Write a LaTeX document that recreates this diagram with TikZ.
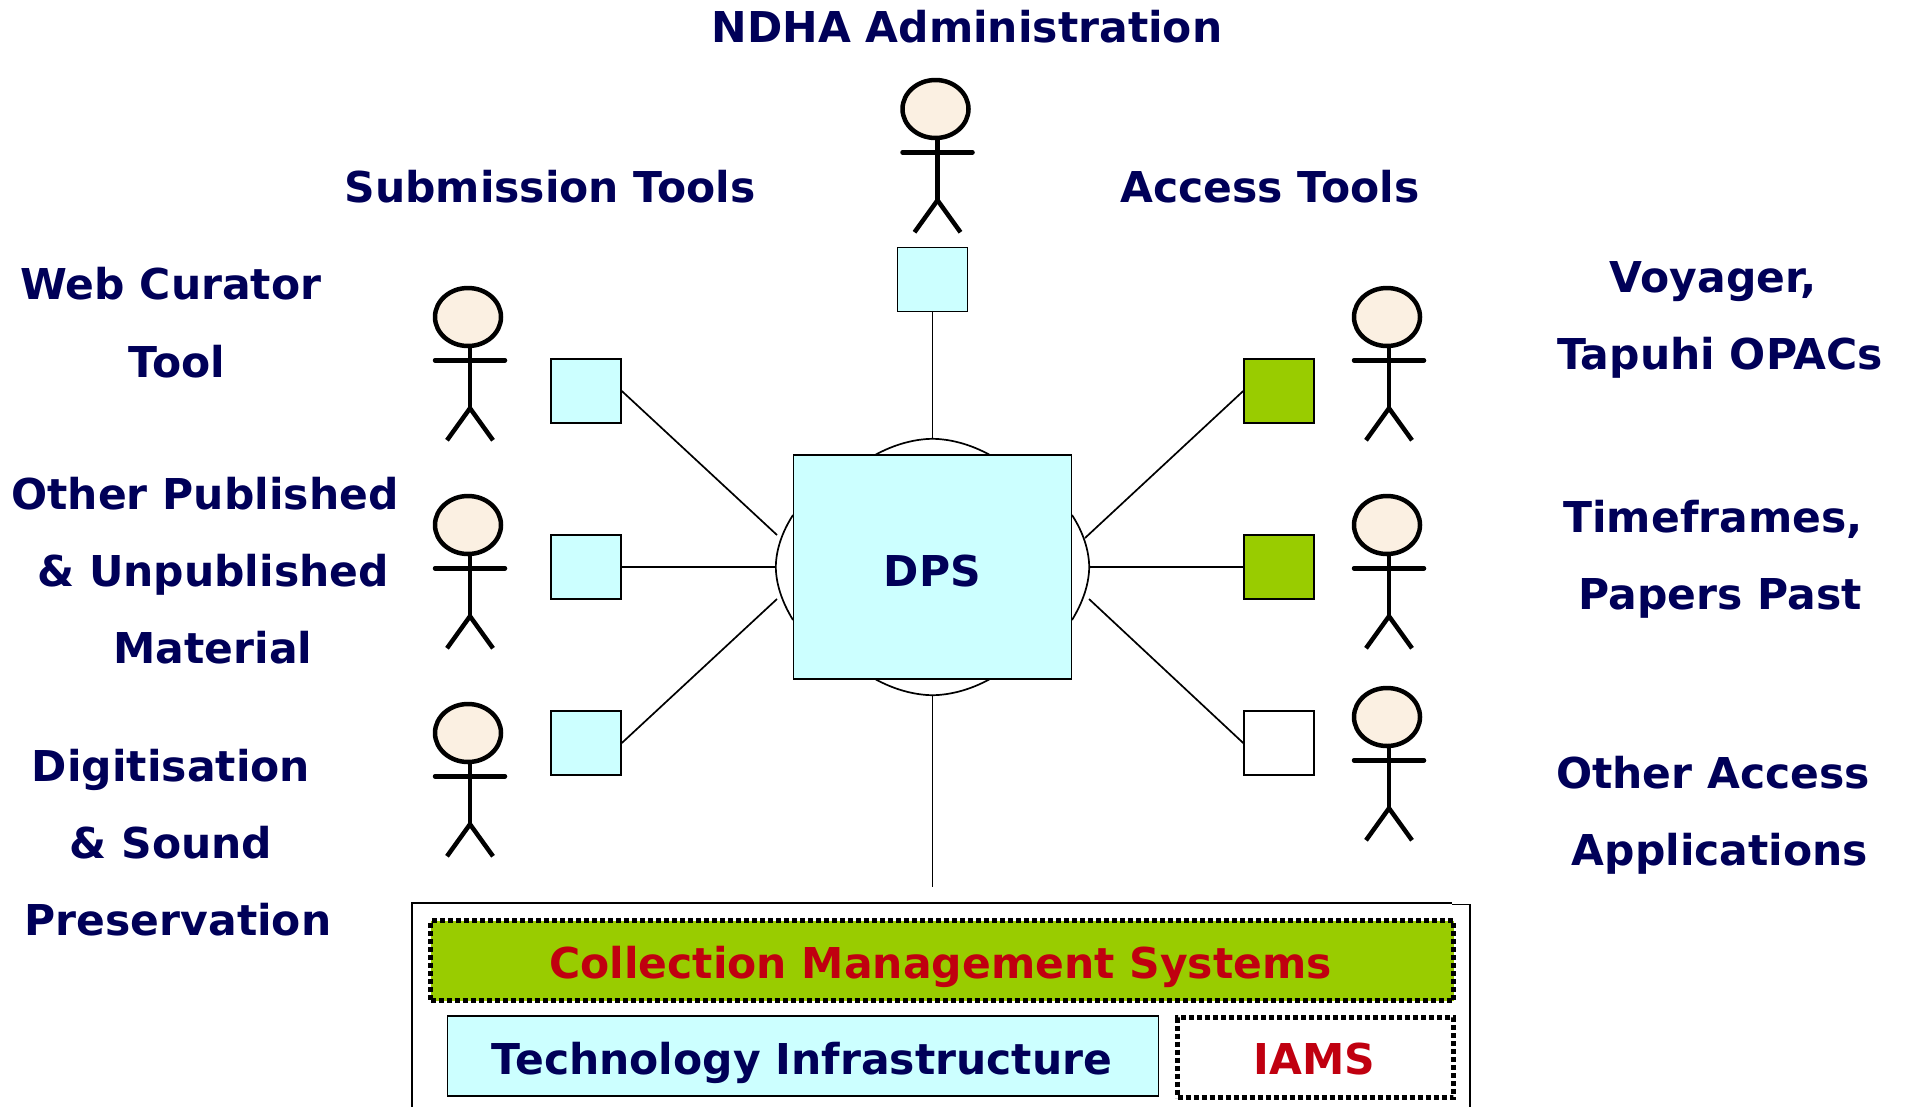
\documentclass[tikz,border=0pt]{standalone}
\usepackage{fontspec}
\setmainfont{DejaVu Sans}
\usetikzlibrary{shapes.geometric,calc}
\definecolor{navy}{HTML}{000058}
\definecolor{redtxt}{HTML}{C00010}
\definecolor{olive}{HTML}{99CC00}
\definecolor{pale}{HTML}{CCFFFF}
\definecolor{skin}{HTML}{FBF0E2}
\tikzset{
  x=1pt,y=-1pt,
  lab/.style={anchor=base,inner sep=0pt,text=navy,font=\fontsize{42.5}{42.5}\selectfont\bfseries},
  redlab/.style={lab,text=redtxt},
  tool/.style={draw=black,line width=1.6pt,minimum width=70pt,minimum height=64pt,inner sep=0pt,anchor=center},
  link/.style={draw=black,line width=1.7pt},
  dotbox/.style={draw=black,line width=5pt,dash pattern=on 5pt off 3pt,inner sep=0pt,anchor=north west},
  head/.style={draw=black,line width=4.5pt,fill=skin,ellipse,inner sep=0pt,minimum width=66pt,minimum height=58pt},
  limb/.style={draw=black,line width=4.5pt},
}
\newcommand{\person}[3]{%
  \node[head] (#1) at (#2,#3) {};
  \draw[limb] (#1.south) ++(2,0) -- ++(0,60) coordinate (#1hip);
  \draw[limb,line cap=round] ($(#1.south)+(-33,12)$) -- ($(#1.south)+(37,12)$);
  \draw[limb] (#1hip) -- ++(-23,32);
  \draw[limb] (#1hip) -- ++(23,32);
}
\begin{document}
\begin{tikzpicture}
\useasboundingbox (0,0) rectangle (1905,1106);
% hub
\node[ellipse,minimum width=313pt,minimum height=256pt,inner sep=0pt] (hub) at (932.5,567) {};
\draw[link] (875,455) .. controls (895,444) and (915,439) .. (hub.north) .. controls (950,439) and (970,444) .. (990,455);
\draw[link] (875,679) .. controls (895,690) and (915,695) .. (hub.south) .. controls (950,695) and (970,690) .. (990,679);
\draw[link] (793,515) .. controls (782,532) and (776,550) .. (hub.west) .. controls (776,584) and (782,602) .. (793,620);
\draw[link] (1072,515) .. controls (1083,532) and (1089,550) .. (hub.east) .. controls (1089,584) and (1083,602) .. (1072,620);
\node[draw=black,line width=1.7pt,fill=pale,minimum width=278pt,minimum height=224pt,inner sep=0pt] (dps) at (932.5,567) {};
\node[lab] (dpstxt) at (932.5,586) {DPS};
% tool boxes
\node[tool,fill=pale] (top) at (932.5,279.5) {};
\node[tool,fill=pale] (l1) at (586,391) {};
\node[tool,fill=pale] (l2) at (586,567) {};
\node[tool,fill=pale] (l3) at (586,743) {};
\node[tool,fill=olive] (r1) at (1279,391) {};
\node[tool,fill=olive] (r2) at (1279,567) {};
\node[tool,fill=white] (r3) at (1279,743) {};
% free ends near hub
\coordinate (hl1) at (777,535);
\coordinate (hl3) at (777,599);
\coordinate (hr1) at (1085,538);
\coordinate (hr3) at (1089,599);
\coordinate (busend) at (932.5,887);
% connectors
\draw[link] (top.south) -- (hub.north);
\draw[link] (l1.east) -- (hl1);
\draw[link] (l2.east) -- (hub.west);
\draw[link] (l3.east) -- (hl3);
\draw[link] (r1.west) -- (hr1);
\draw[link] (r2.west) -- (hub.east);
\draw[link] (r3.west) -- (hr3);
\draw[link] (hub.south) -- (busend);
% persons
\person{ptop}{935.5}{109}
\person{pl1}{468}{317}
\person{pl2}{468}{525}
\person{pl3}{468}{733}
\person{pr1}{1387}{317}
\person{pr2}{1387}{525}
\person{pr3}{1387}{717}
% bottom panel
\draw[line width=1.7pt] (412,1110) -- (412,903) -- (1452,903);
\draw[line width=1.2pt] (1452,904.5) -- (1470,904.5) -- (1470,1110);
\node[dotbox,fill=olive,minimum width=1023pt,minimum height=80pt] (cms) at (428,918) {};
\node[draw=black,line width=1.7pt,fill=pale,anchor=north west,inner sep=0pt,minimum width=711pt,minimum height=80pt] (tech) at (446.5,1015) {};
\node[dotbox,minimum width=276pt,minimum height=80pt] (iams) at (1175,1015) {};
\node[redlab] (cmstxt) at (940.5,978) {Collection Management Systems};
\node[lab] (techtxt) at (802,1074) {Technology Infrastructure};
\node[redlab] (iamstxt) at (1314.5,1074) {IAMS};
% labels
\node[lab] (t1) at (967,42) {NDHA Administration};
\node[lab] (t2) at (550,202) {Submission Tools};
\node[lab] (t3) at (1270,202) {Access Tools};
\node[lab] (t4) at (171,299) {Web Curator};
\node[lab] (t5) at (177,377) {Tool};
\node[lab] (t6) at (205,509) {Other Published};
\node[lab] (t7) at (213,586) {\& Unpublished};
\node[lab] (t8) at (213,663) {Material};
\node[lab] (t9) at (171,781) {Digitisation};
\node[lab] (t10) at (171,858) {\& Sound};
\node[lab] (t11) at (178,935) {Preservation};
\node[lab] (t12) at (1713,292) {Voyager,};
\node[lab] (t13) at (1720,369) {Tapuhi OPACs};
\node[lab] (t14) at (1713,532) {Timeframes,};
\node[lab] (t15) at (1720,609) {Papers Past};
\node[lab] (t16) at (1713,788) {Other Access};
\node[lab] (t17) at (1720,865) {Applications};
\end{tikzpicture}
\end{document}
